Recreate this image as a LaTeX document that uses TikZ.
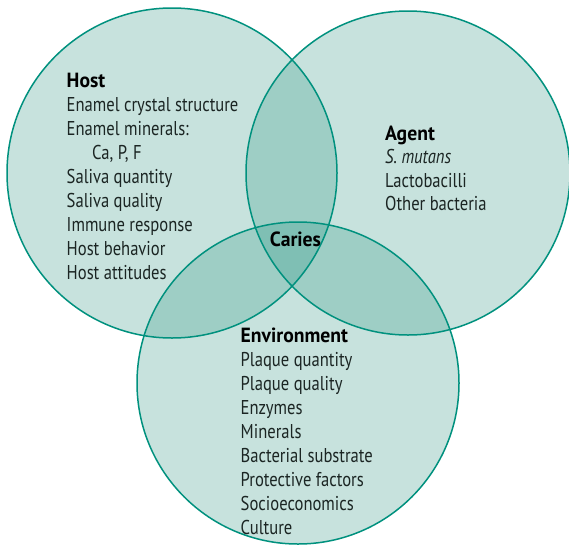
\documentclass[tikz,border=0pt]{standalone}
\usepackage{fontspec}
\setmainfont{PT Sans}[FakeStretch=0.83]
\newfontfamily\headfont{PT Sans}[FakeStretch=0.96]
\begin{document}
\definecolor{cone}{HTML}{C7E2DD}
\definecolor{ctwo}{HTML}{9ECEC5}
\definecolor{cthree}{HTML}{7FBFB4}
\definecolor{cline}{HTML}{00917E}
\definecolor{ctext}{HTML}{1B2523}
\begin{tikzpicture}[x=1pt,y=-1pt,
  txt/.style={anchor=base west, inner sep=0pt, text=ctext, font=\fontsize{20}{24}\selectfont},
  head/.style={txt, text=black, font=\fontsize{20.5}{24}\selectfont\headfont\bfseries},
  ring/.style={draw=cline, line width=1.5pt}]
\useasboundingbox (0,0) rectangle (569,546);
\coordinate (H) at (172,173);
\coordinate (A) at (408,173);
\coordinate (E) at (298,383);
\def\rH{165}\def\rA{162}\def\rE{161}
% single fills
\fill[cone] (H) circle[radius=\rH];
\fill[cone] (A) circle[radius=\rA];
\fill[cone] (E) circle[radius=\rE];
% pair overlaps
\begin{scope}
  \clip (H) circle[radius=\rH];
  \fill[ctwo] (A) circle[radius=\rA];
  \fill[ctwo] (E) circle[radius=\rE];
\end{scope}
\begin{scope}
  \clip (A) circle[radius=\rA];
  \fill[ctwo] (E) circle[radius=\rE];
\end{scope}
% triple overlap
\begin{scope}
  \clip (H) circle[radius=\rH];
  \clip (A) circle[radius=\rA];
  \fill[cthree] (E) circle[radius=\rE];
\end{scope}
% outlines
\draw[ring] (H) circle[radius=\rH];
\draw[ring] (A) circle[radius=\rA];
\draw[ring] (E) circle[radius=\rE];
% Host
\node[head] (host) at (66.5,87.5) {Host};
\node[txt] (h1) at (66.5,111.5) {Enamel crystal structure};
\node[txt] (h2) at (66.5,135.5) {Enamel minerals:};
\node[txt] (h3) at (92,159.5) {Ca, P, F};
\node[txt] (h4) at (66.5,183.5) {Saliva quantity};
\node[txt] (h5) at (66.5,207.5) {Saliva quality};
\node[txt] (h6) at (66.5,231.5) {Immune response};
\node[txt] (h7) at (66.5,255.5) {Host behavior};
\node[txt] (h8) at (66.5,279.5) {Host attitudes};
% Agent
\node[head] (agent) at (385,140) {Agent};
\node[txt] (a1) at (385,163.5) {\itshape S. mutans};
\node[txt] (a2) at (385,187) {Lactobacilli};
\node[txt] (a3) at (385,210.5) {Other bacteria};
% Caries
\node[head, anchor=base] (caries) at (295.5,246.5) {Caries};
% Environment
\node[head] (env) at (240.5,342.5) {Environment};
\node[txt] (e1) at (240.5,366.5) {Plaque quantity};
\node[txt] (e2) at (240.5,390.5) {Plaque quality};
\node[txt] (e3) at (240.5,414.5) {Enzymes};
\node[txt] (e4) at (240.5,438.5) {Minerals};
\node[txt] (e5) at (240.5,462.5) {Bacterial substrate};
\node[txt] (e6) at (240.5,486.5) {Protective factors};
\node[txt] (e7) at (240.5,510.5) {Socioeconomics};
\node[txt] (e8) at (240.5,534.5) {Culture};
\end{tikzpicture}
\end{document}
